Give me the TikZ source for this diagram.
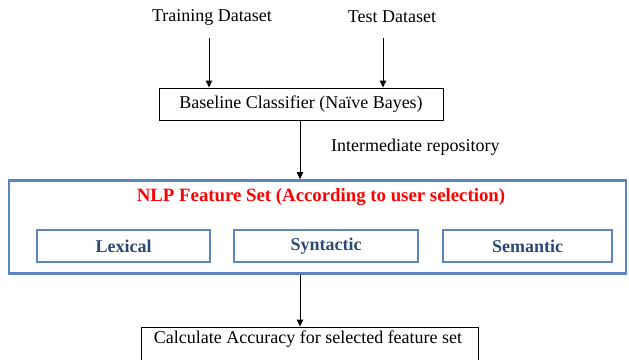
\documentclass[tikz,border=0pt]{standalone}
\usepackage{fontspec}
\setmainfont{Liberation Serif}
\usetikzlibrary{arrows.meta}
\definecolor{boxblue}{HTML}{5B86BF}
\definecolor{labblue}{HTML}{2B4A73}
\definecolor{titlered}{HTML}{FF0000}
\tikzset{
  txt/.style={font=\fontsize{18}{21}\selectfont, inner sep=0pt},
  plainbox/.style={draw=black, line width=0.9pt, fill=white, inner sep=0pt},
  bluebox/.style={draw=boxblue, line width=2.8pt, inner sep=0pt},
  featbox/.style={draw=boxblue, line width=2.6pt, inner sep=0pt, minimum height=32pt,
    font=\bfseries\fontsize{18}{21}\selectfont, text=labblue},
  arr/.style={draw=black, line width=1pt, -{Triangle[length=7pt,width=6.5pt]}}
}
\begin{document}
\begin{tikzpicture}[x=1pt,y=-1pt]
\useasboundingbox (0,0) rectangle (629,359);
\node[txt] (train) at (212,17) {Training Dataset};
\node[txt] (test) at (392,17) {Test Dataset};
\node[plainbox, minimum width=284pt, minimum height=32pt] (base) at (301,104) {};
\node[txt] (basetxt) at (base.center) {Baseline Classifier (Naïve Bayes)};
\coordinate (t1) at (209,38);
\coordinate (t2) at (383,38);
\draw[arr] (t1) -- (t1 |- base.north);
\draw[arr] (t2) -- (t2 |- base.north);
\node[txt, anchor=west] (inter) at (331,147) {Intermediate repository};
\node[bluebox, minimum width=617pt, minimum height=93pt] (nlp) at (317.5,227) {};
\node[txt, font=\bfseries\fontsize{18.8}{22}\selectfont, text=titlered] (nlptitle) at (321,197) {NLP Feature Set (According to user selection)};
\node[featbox, minimum width=173pt] (lex) at (123.5,246) {Lexical};
\node[featbox, minimum width=184pt] (syn) at (326,246) {Syntactic};
\node[featbox, minimum width=169pt] (sem) at (527.5,246) {Semantic};
\coordinate (b1) at (base.south -| 300,0);
\draw[arr] (b1) -- (b1 |- nlp.north);
\node[plainbox, minimum width=337pt, minimum height=40pt] (calc) at (309.5,347) {};
\node[txt] (calctxt) at (308,339) {Calculate Accuracy for selected feature set};
\coordinate (b2) at (nlp.south -| 300,0);
\draw[arr] (b2) -- (b2 |- calc.north);
\end{tikzpicture}
\end{document}
